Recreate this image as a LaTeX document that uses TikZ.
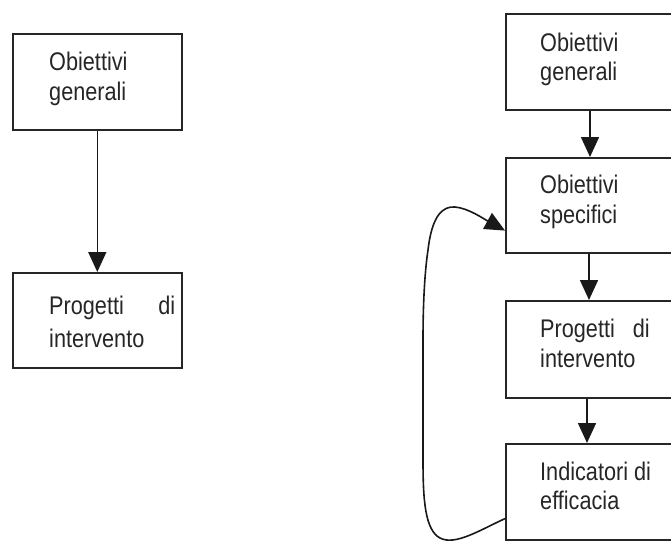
\documentclass[tikz,border=0pt]{standalone}
\usepackage{fontspec}
\setmainfont[FakeStretch=0.85]{Liberation Sans}
\usetikzlibrary{arrows.meta,calc}
\begin{document}
\begin{tikzpicture}[x=1pt,y=-1pt,
  box/.style={draw=black!85,line width=1.6pt,rectangle,minimum width=169pt,minimum height=96pt,anchor=north west,inner sep=0pt},
  rbox/.style={box,minimum width=220pt},
  txt/.style={anchor=base west,inner sep=0pt,text=black!85,font=\fontsize{25.5}{30}\selectfont},
  arr/.style={draw=black!90,line width=1.6pt,-{Triangle[width=18pt,length=20pt]}}
]
\useasboundingbox (0,0) rectangle (671,541);
\clip (0,0) rectangle (671,541);
\fill[white] (0,0) rectangle (671,541);
% left column
\node[box] (l1) at (12,33) {};
\node[box,minimum height=95pt] (l2) at (12,272) {};
\node[txt] (l1a) at (49,70) {Obiettivi};
\node[txt] (l1b) at (49,100) {generali};
\node[txt,text width=126pt] (l2a) at (49,314) {Progetti\hfill di};
\node[txt] (l2b) at (49,347) {intervento};
\draw[arr] (l1.south) -- (l2.north);
% right column
\node[rbox] (rA) at (505,13) {};
\node[rbox,minimum height=95pt] (rB) at (505,157) {};
\node[rbox,minimum height=97pt] (rC) at (505,300) {};
\node[rbox] (rD) at (505,443) {};
\node[txt] (rA1) at (540,51) {Obiettivi};
\node[txt] (rA2) at (540,80) {generali};
\node[txt] (rB1) at (540,193) {Obiettivi};
\node[txt] (rB2) at (540,223) {specifici};
\node[txt] (rC1) at (540,337) {Progetti\hspace{18pt}di};
\node[txt] (rC2) at (540,367) {intervento};
\node[txt] (rD1) at (540,480) {Indicatori di};
\node[txt] (rD2) at (540,509) {efficacia};
\draw[arr] ([xshift=85pt]rA.south west) -- ([xshift=85pt]rB.north west);
\draw[arr] ([xshift=84pt]rB.south west) -- ([xshift=84pt]rC.north west);
\draw[arr] ([xshift=82pt]rC.south west) -- ([xshift=82pt]rD.north west);
% feedback loop
\coordinate (fbs) at ($(rD.south west)+(0,-22)$);
\coordinate (fbe) at ($(rB.south west)+(0,-23)$);
\draw[arr] (fbs) .. controls (480,530) and (455,546) .. (440,538)
  .. controls (425,530) and (423,500) .. (423,460)
  -- (423,340)
  .. controls (423,300) and (425,270) .. (428,250)
  .. controls (432,215) and (443,206) .. (455,207)
  .. controls (468,208) and (484,219) .. (fbe);
\end{tikzpicture}
\end{document}
